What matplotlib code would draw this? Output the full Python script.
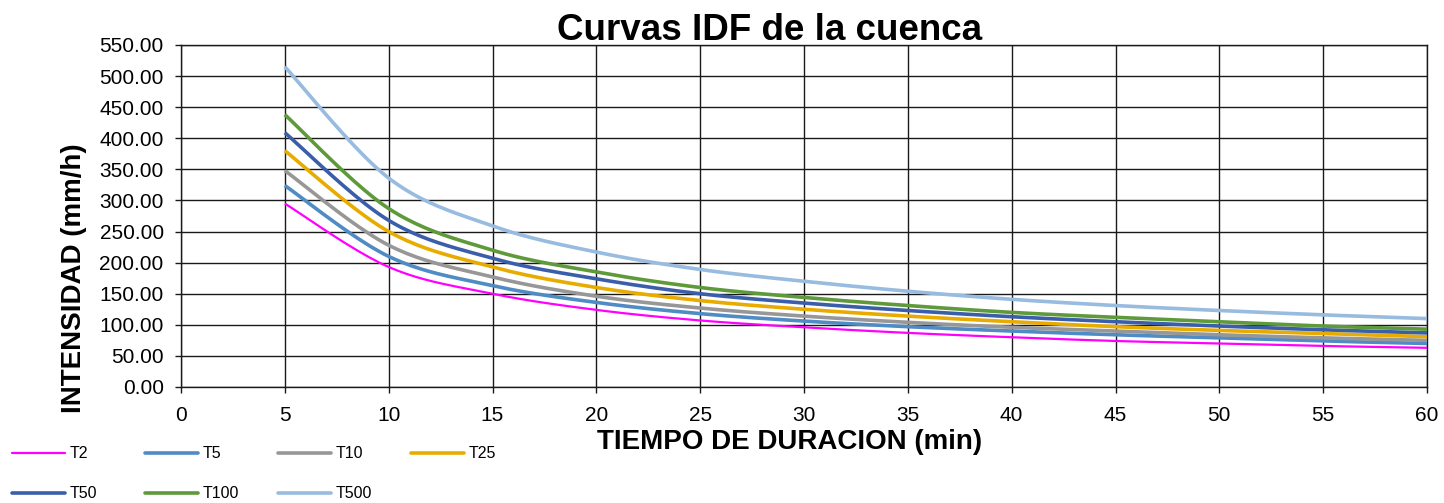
import numpy as np
import matplotlib
matplotlib.use("Agg")
import matplotlib.pyplot as plt
from matplotlib.lines import Line2D

plt.rcParams['font.family'] = ['Liberation Sans', 'DejaVu Sans']

# duraciones (min) y curvas de intensidad (mm/h)
durations = [5, 10, 15, 20, 25, 30, 35, 40, 45, 50, 55, 60]
t2 = [295, 193, 150, 124, 107, 96, 87, 80, 74, 70, 66, 63]
t5 = [324, 210, 163, 136, 118, 106, 97, 90, 84, 79, 74, 70]
t10 = [348, 228, 177, 146, 127, 114, 104, 96, 90, 84, 79, 75]
t25 = [380, 250, 193, 160, 139, 125, 114, 105, 97, 91, 86, 81]
t50 = [409, 268, 207, 174, 150, 135, 123, 113, 105, 98, 92, 87]
t100 = [438, 287, 220, 185, 160, 144, 131, 120, 112, 105, 98, 93]
t500 = [515, 336, 259, 217, 189, 170, 154, 141, 131, 123, 116, 110]

labels = ["T2", "T5", "T10", "T25", "T50", "T100", "T500"]
series = [t2, t5, t10, t25, t50, t100, t500]
colors = ["#FF00FF", "#4F8BC4", "#979797", "#E8AC00", "#3A5EAA", "#5E9A3A", "#98BBE0"]
widths = [1.6, 2.6, 2.6, 2.6, 2.6, 2.6, 2.6]

x_ticks = list(range(0, 61, 5))
y_ticks = list(range(0, 551, 50))


def smooth(x, y, n=24):
    # curva suavizada tipo Excel (bezier con tangentes de Catmull-Rom)
    p = np.column_stack([x, y]).astype(float)
    p = np.vstack([p[0], p, p[-1]])
    out = []
    for i in range(1, len(p) - 2):
        p0, p1, p2, p3 = p[i - 1], p[i], p[i + 1], p[i + 2]
        b1 = p1 + (p2 - p0) / 6
        b2 = p2 - (p3 - p1) / 6
        t = np.linspace(0, 1, n)[:, None]
        seg = ((1 - t) ** 3) * p1 + 3 * ((1 - t) ** 2) * t * b1 + 3 * (1 - t) * t ** 2 * b2 + t ** 3 * p2
        out.append(seg if i == 1 else seg[1:])
    out = np.vstack(out)
    return out[:, 0], out[:, 1]


fig = plt.figure(figsize=(14.44, 5.03), dpi=100)
ax = fig.add_axes([181 / 1444, 1 - 387 / 503, 1246 / 1444, 342 / 503])

for lab, s, c, w in zip(labels, series, colors, widths):
    xs, ys = smooth(durations, s)
    ax.plot(xs, ys, color=c, lw=w, label=lab, zorder=3, solid_capstyle='butt')

ax.set_xlim(0, 60)
ax.set_ylim(0, 550)
ax.set_xticks(x_ticks)
ax.set_yticks(y_ticks)
ax.set_yticklabels([f"{v:.2f}" for v in y_ticks])
ax.grid(True, color='#1a1a1a', lw=1.0, zorder=1)
ax.set_axisbelow(True)
for sp in ax.spines.values():
    sp.set_color('#1a1a1a')
    sp.set_linewidth(1.0)
ax.tick_params(axis='both', labelsize=15, length=4.5, width=1.0, color='#1a1a1a')
ax.tick_params(axis='y', pad=8)
ax.tick_params(axis='x', pad=9)

fig.text(770 / 1444, 1 - 40 / 503, "Curvas IDF de la cuenca", ha='center', va='baseline',
         fontsize=26.5, fontweight='bold')
fig.text(790 / 1444, 1 - 449 / 503, "TIEMPO DE DURACION (min)", ha='center', va='baseline',
         fontsize=20, fontweight='bold')
fig.text(74 / 1444, 1 - 278 / 503, "INTENSIDAD (mm/h)", ha='center', va='center',
         rotation=90, fontsize=20, fontweight='bold')

# leyenda en dos filas
for i, (lab, c, w) in enumerate(zip(labels, colors, widths)):
    row, col = divmod(i, 4)
    x0 = 12 + 133 * col
    yy = 1 - (453 + 40 * row) / 503
    fig.add_artist(Line2D([x0 / 1444, (x0 + 53) / 1444], [yy, yy], color=c, lw=w,
                          transform=fig.transFigure, solid_capstyle='round'))
    fig.text((x0 + 58) / 1444, yy, lab, ha='left', va='center', fontsize=11.5)

fig.savefig("out.png", dpi=100)
